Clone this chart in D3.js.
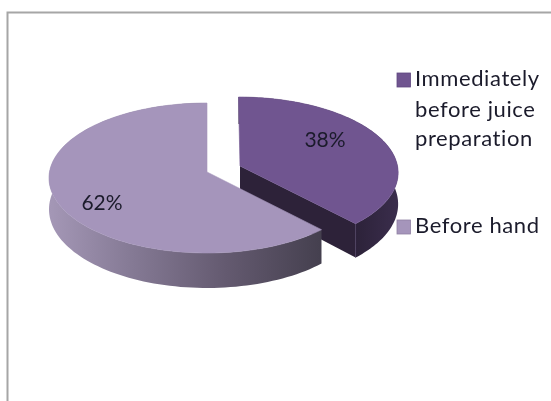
<!DOCTYPE html>
<html><head><meta charset="utf-8">
<script src="https://cdn.jsdelivr.net/npm/d3@7"></script>
<style>html,body{margin:0;padding:0;background:#fff}svg{display:block;filter:blur(0.4px)}text{font-family:Lato,"Open Sans",sans-serif}</style>
</head><body><svg id="c" width="551" height="401"></svg>
<script>
const categories = ["Immediately before juice preparation", "Before hand"];
const values = [38, 62];
const labels = ["38%", "62%"];
const legendLines = [["Immediately", "before juice", "preparation"], ["Before hand"]];
const topColors = ["#705590", "#a595bb"];

const svg = d3.select("#c");
svg.append("path").attr("d", "M7.5 401V12.5H551").attr("fill", "none").attr("stroke", "#a6a6a6").attr("stroke-width", 2);

const defs = svg.append("defs");
const g = defs.append("linearGradient").attr("id", "rim").attr("gradientUnits", "userSpaceOnUse")
  .attr("x1", 50).attr("x2", 320).attr("y1", 0).attr("y2", 0);
[[0, "#a497b6"], [0.3, "#857a95"], [0.65, "#645a70"], [1, "#45404f"]].forEach(s =>
  g.append("stop").attr("offset", s[0]).attr("stop-color", s[1]));
const dg = defs.append("linearGradient").attr("id", "rimDark").attr("gradientUnits", "userSpaceOnUse")
  .attr("x1", 355).attr("x2", 398).attr("y1", 0).attr("y2", 0);
[[0, "#2c2239"], [1, "#3a2d4c"]].forEach(s => dg.append("stop").attr("offset", s[0]).attr("stop-color", s[1]));

const pie = d3.pie().sort(null).value(d => d);
const arcs = pie(values);

const R = 157.5, Ry = 74.5, p = 0.08;
const centers = [[240, 166], [207, 172]];
function proj(c, t, r, drop) {
  const u = r * Math.sin(t), v = -r * Math.cos(t), w = 1 - p * v;
  const dep = drop ? 31 + 4 * v : 0;
  const shift = c === centers[0] ? 2 * (v + 1) / 2 * 1.5 - 1.5 : 0;
  return [c[0] + shift + R * u / w, c[1] + Ry * v / w + dep];
}
const line = d3.line();
const sweep = (c, a0, a1, drop) => d3.range(0, 121).map(i => proj(c, a0 + (a1 - a0) * i / 120, 1, drop));

function drawSlice(i) {
  const a = arcs[i], c = centers[i];
  const rimFill = i === 0 ? "url(#rimDark)" : "url(#rim)";
  const top = sweep(c, a.startAngle, a.endAngle, false);
  const bot = sweep(c, a.startAngle, a.endAngle, true);
  svg.append("path").attr("d", line(top.concat(bot.slice().reverse())) + "Z").attr("fill", rimFill);
  if (i === 0) {
    const inner = proj(c, a.endAngle, 0, false), tip = proj(c, a.endAngle, 1, false);
    const tipB = proj(c, a.endAngle, 1, true), innerB = [inner[0], inner[1] + 31];
    svg.append("path").attr("d", line([inner, tip, tipB, innerB]) + "Z").attr("fill", "#2d2239");
    svg.append("path").attr("d", line([tip, tipB])).attr("stroke", "#4a3c5e").attr("stroke-width", 0.8);
  }
  svg.append("path").attr("d", line([proj(c, 0, 0, false)].concat(top)) + "Z")
    .attr("fill", topColors[i]).attr("stroke", topColors[i]).attr("stroke-width", 0.6);
}
drawSlice(0);
drawSlice(1);

const labelPos = [[325, 147], [102, 210]];
labels.forEach((t, i) => svg.append("text").attr("x", labelPos[i][0]).attr("y", labelPos[i][1])
  .attr("text-anchor", "middle").attr("font-size", 21).attr("fill", "#1b1b2b").text(t));

const legendSwatchY = [73, 220];
const legendBaselines = [[86, 117, 146], [233]];
categories.forEach((cat, i) => {
  svg.append("rect").attr("x", 397).attr("y", legendSwatchY[i]).attr("width", 13.5).attr("height", 14)
    .attr("fill", topColors[i]).attr("stroke", i ? "#8f80a3" : "#5f4880").attr("stroke-width", 0.8);
  const t = svg.append("text").attr("fill", "#1b1b2b").attr("font-size", 22).attr("letter-spacing", 0.6);
  legendLines[i].forEach((l, j) => t.append("tspan").attr("x", 415).attr("y", legendBaselines[i][j]).text(l));
});
</script></body></html>
